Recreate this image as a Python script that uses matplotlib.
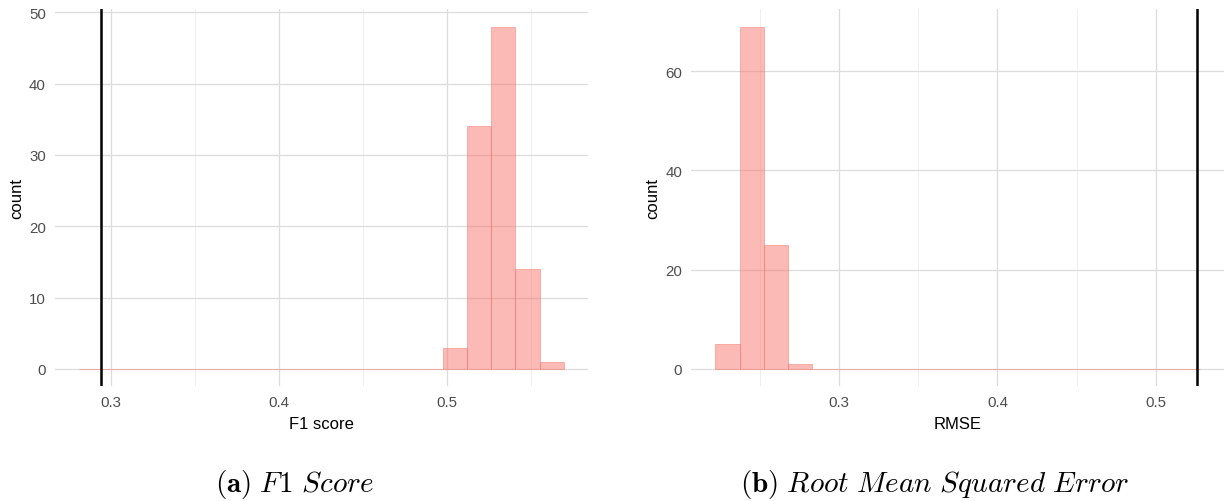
import matplotlib.pyplot as plt
from matplotlib.ticker import MultipleLocator

plt.rcParams['font.family'] = ['Liberation Sans', 'DejaVu Sans']
plt.rcParams['mathtext.fontset'] = 'cm'

# Histogramas de bootstrap: conteos por bin
f1_start = 0.2811
f1_width = 0.01443
f1_counts = [0] * 15 + [3, 34, 48, 14, 1]
f1_baseline = 0.2942

rmse_start = 0.2218
rmse_width = 0.01531
rmse_counts = [5, 69, 25, 1] + [0] * 16
rmse_baseline = 0.5259

fill = (0.973, 0.463, 0.427, 0.5)


def histograma(ax, start, width, counts, baseline, xlabel, xlim, ylim, ystep):
    edges = [start + i * width for i in range(len(counts))]
    ax.bar(edges, counts, width=width, align='edge',
           color=fill, edgecolor=fill, linewidth=0.7, zorder=2)
    ax.axvline(baseline, color='black', linewidth=1.8, zorder=3)
    ax.set_xlim(*xlim)
    ax.set_ylim(*ylim)
    ax.xaxis.set_major_locator(MultipleLocator(0.1))
    ax.xaxis.set_minor_locator(MultipleLocator(0.05))
    ax.yaxis.set_major_locator(MultipleLocator(ystep))
    ax.grid(which='major', color='#dcdcdc', linewidth=0.9, zorder=0)
    ax.grid(which='minor', axis='x', color='#ececec', linewidth=0.6, zorder=0)
    ax.set_axisbelow(True)
    for s in ax.spines.values():
        s.set_visible(False)
    ax.tick_params(which='both', length=0, labelsize=10.8, labelcolor='#4d4d4d')
    ax.tick_params(axis='y', pad=6.5)
    ax.tick_params(axis='x', pad=6.5)
    ax.set_xlabel(xlabel, fontsize=12, labelpad=5)
    ax.set_ylabel('count', fontsize=12, labelpad=3.5)


fig = plt.figure(figsize=(12.25, 5.02), dpi=100)
ax1 = fig.add_axes([0.04473, 0.22888, 0.4351, 0.7504])
ax2 = fig.add_axes([0.56416, 0.22888, 0.4351, 0.7504])

histograma(ax1, f1_start, f1_width, f1_counts, f1_baseline, 'F1 score',
           (0.2667, 0.5839), (-2.4, 50.4), 10)
histograma(ax2, rmse_start, rmse_width, rmse_counts, rmse_baseline, 'RMSE',
           (0.2065, 0.5432), (-3.45, 72.45), 20)

fig.text(0.2408, 0.0349, r'$\mathbf{(a)}$ $\mathit{F1\ Score}$',
         ha='center', va='center', fontsize=21)
fig.text(0.7633, 0.0349, r'$\mathbf{(b)}$ $\mathit{Root\ Mean\ Squared\ Error}$',
         ha='center', va='center', fontsize=21)

fig.savefig('out.png', dpi=100)
